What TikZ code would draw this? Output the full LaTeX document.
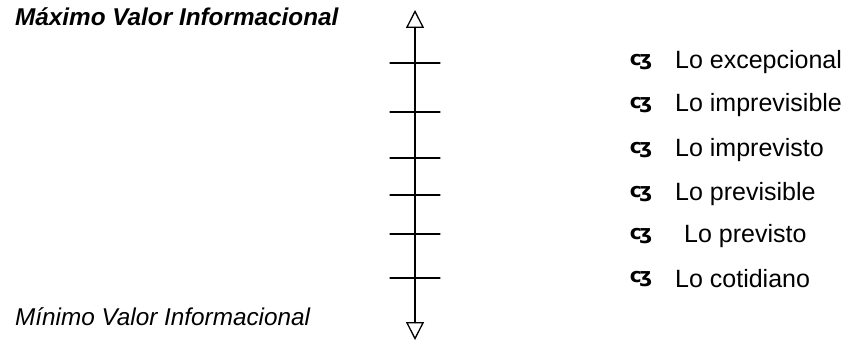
\documentclass[tikz,border=0pt]{standalone}
\usepackage{fontspec}
\setmainfont{Liberation Sans}
\newfontfamily\markfont{DejaVu Sans}
\usetikzlibrary{arrows.meta}

\newcommand{\curlmark}{{\markfont\bfseries c\kern-0.12em ʒ}}

\begin{document}
\begin{tikzpicture}[
				x=1pt, y=-1pt,
				line cap=round,
				line join=round,
				every node/.style={font=\fontsize{25}{25}\selectfont, inner sep=0pt},
				sidelabel/.style={anchor=west, font=\fontsize{24.3}{24.3}\selectfont\itshape},
				levellabel/.style={anchor=west},
				levelmark/.style={font=\fontsize{20}{20}\selectfont},
				tickline/.style={line width=1.3pt},
				openhead/.style={{Triangle[open, length=18pt, width=18pt, line width=1.3pt]}-{Triangle[open, length=18pt, width=18pt, line width=1.3pt]}}
				]
				\useasboundingbox (0,0) rectangle (850,342);
				
				% Axis
				\coordinate (top) at (415,10);
				\coordinate (bottom) at (415,340);
				\draw[line width=2pt, openhead] (bottom) -- (top);
				
				% Ticks
				\foreach \y [count=\i] in {63,112,158,195,234,278}{
					\coordinate (t\i) at (415,\y);
					\draw[tickline] ([xshift=-25pt]t\i) -- ([xshift=25pt]t\i);
				}
				
				% Levels on the right
				\foreach \y/\dx/\txt [count=\i] in {62/0/Lo excepcional, 105/0/Lo imprevisible, 150/0/Lo imprevisto, 194/0/Lo previsible, 236/9/Lo previsto, 279/0/Lo cotidiano}{
					\node[levelmark] (b\i) at (641,\y) {\curlmark};
					\node[levellabel] (l\i) at (675+\dx,\y) {\txt};
				}
				
				% End labels
				\node[sidelabel] (maxlabel) at (15,17) {\bfseries Máximo Valor Informacional};
				\node[sidelabel] (minlabel) at (15,317) {Mínimo Valor Informacional};
			\end{tikzpicture}
\end{document}
